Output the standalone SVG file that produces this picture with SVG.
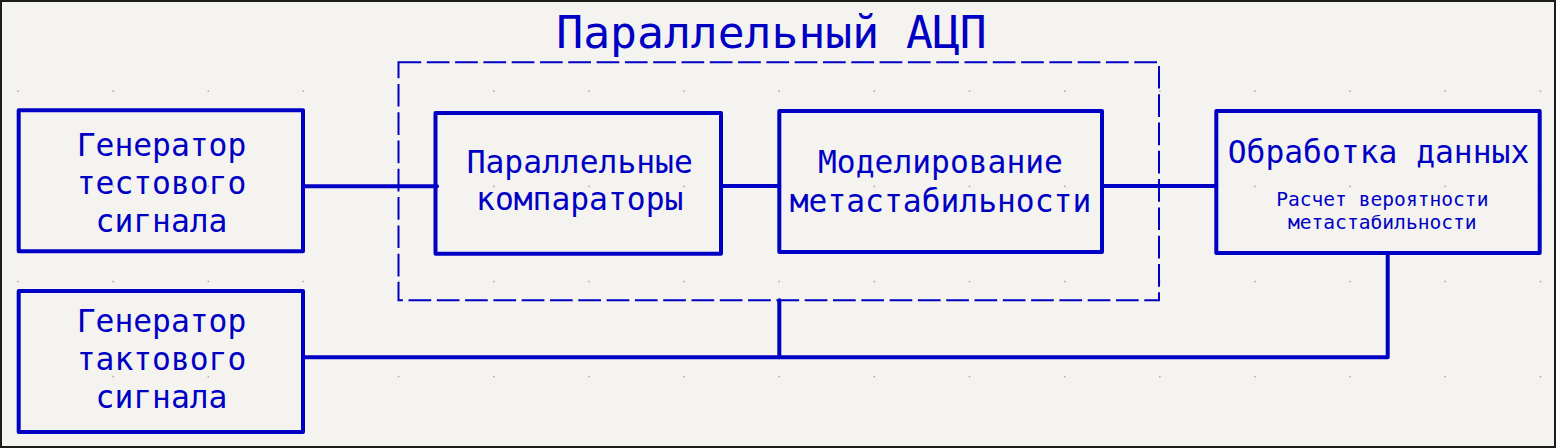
<svg xmlns="http://www.w3.org/2000/svg" width="1556" height="448" viewBox="0 0 1556 448">
<style>
.box{fill:none;stroke:#0000c4;stroke-width:4;stroke-linejoin:round}
.wire{fill:none;stroke:#0000c4;stroke-width:4;stroke-linecap:round;stroke-linejoin:round}
.dash{fill:none;stroke:#0000c4;stroke-width:2;stroke-dasharray:22.7 5.6}
.t{font-family:"DejaVu Sans Mono","Liberation Mono",monospace;fill:#0000c4;text-anchor:middle}
.big{font-size:31.3px}
.small{font-size:19.6px}
.title{font-size:44.7px}
.dot{fill:#a8a8a8}
</style>
<defs>
<g id="row">
<rect class="dot" x="17.3" y="0" width="1.5" height="1.5"/>
<rect class="dot" x="112.4" y="0" width="1.5" height="1.5"/>
<rect class="dot" x="207.6" y="0" width="1.5" height="1.5"/>
<rect class="dot" x="302.7" y="0" width="1.5" height="1.5"/>
<rect class="dot" x="397.9" y="0" width="1.5" height="1.5"/>
<rect class="dot" x="493" y="0" width="1.5" height="1.5"/>
<rect class="dot" x="588.2" y="0" width="1.5" height="1.5"/>
<rect class="dot" x="683.3" y="0" width="1.5" height="1.5"/>
<rect class="dot" x="778.5" y="0" width="1.5" height="1.5"/>
<rect class="dot" x="873.6" y="0" width="1.5" height="1.5"/>
<rect class="dot" x="968.8" y="0" width="1.5" height="1.5"/>
<rect class="dot" x="1063.9" y="0" width="1.5" height="1.5"/>
<rect class="dot" x="1159.1" y="0" width="1.5" height="1.5"/>
<rect class="dot" x="1254.2" y="0" width="1.5" height="1.5"/>
<rect class="dot" x="1349.4" y="0" width="1.5" height="1.5"/>
<rect class="dot" x="1444.5" y="0" width="1.5" height="1.5"/>
<rect class="dot" x="1539.7" y="0" width="1.5" height="1.5"/>
</g>
</defs>
<rect x="0" y="0" width="1556" height="448" fill="#f5f3ef"/>
<g id="grid">
<use href="#row" y="90.5"/>
<use href="#row" y="185.6"/>
<use href="#row" y="280.8"/>
<use href="#row" y="375.9"/>
</g>
<rect x="1" y="1" width="1554" height="446" fill="none" stroke="#1c1c1c" stroke-width="2"/>

<g id="title">
<text class="t title" x="771.5" y="47.7">Параллельный АЦП</text>
</g>

<g id="adc-group">
<rect class="dash" x="398.5" y="62.3" width="760.5" height="238"/>
</g>

<g id="connectors">
<line class="wire" x1="303" y1="186.3" x2="437" y2="186.3"/>
<line class="wire" x1="721" y1="186" x2="779.3" y2="186"/>
<line class="wire" x1="1102" y1="186" x2="1216.3" y2="186"/>
<polyline class="wire" points="303,357.3 1387.7,357.3 1387.7,253"/>
<line class="wire" x1="779.3" y1="300.3" x2="779.3" y2="357.3"/>
</g>

<g id="gen-test">
<rect class="box" x="18.7" y="110.3" width="284.3" height="141"/>
<text class="t big" x="161.5" y="156">Генератор</text>
<text class="t big" x="161.5" y="194.3">тестового</text>
<text class="t big" x="161.5" y="232.3">сигнала</text>
</g>

<g id="gen-clock">
<rect class="box" x="18.7" y="291" width="284.3" height="141"/>
<text class="t big" x="161.5" y="332.3">Генератор</text>
<text class="t big" x="161.5" y="370">тактового</text>
<text class="t big" x="161.5" y="408.3">сигнала</text>
</g>

<g id="comparators">
<rect class="box" x="435.5" y="113" width="285.5" height="140.7"/>
<text class="t big" x="579.7" y="172.7">Параллельные</text>
<text class="t big" x="579.7" y="210.3">компараторы</text>
</g>

<g id="metastability">
<rect class="box" x="779.3" y="111" width="322.7" height="141"/>
<text class="t big" x="940.5" y="173.3">Моделирование</text>
<text class="t big" x="940.5" y="211.7">метастабильности</text>
</g>

<g id="processing">
<rect class="box" x="1216.3" y="111" width="323.4" height="142"/>
<text class="t big" x="1378.5" y="162.7">Обработка данных</text>
<text class="t small" x="1382.3" y="205.7">Расчет вероятности</text>
<text class="t small" x="1382.3" y="229.3">метастабильности</text>
</g>
</svg>
